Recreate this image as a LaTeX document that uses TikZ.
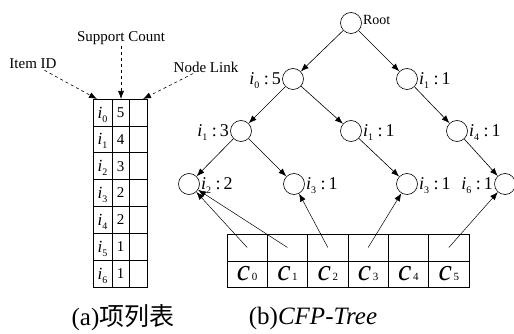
\documentclass[tikz,border=0pt]{standalone}
\usepackage{fontspec}
\setmainfont{Liberation Serif}
\newfontfamily\cjk{Noto Sans CJK SC}
\usetikzlibrary{arrows.meta,positioning}
\newcommand{\itm}[1]{\textit{i}\raisebox{-4pt}{\fontsize{10}{10}\selectfont #1}}
\newcommand{\lab}[2]{\itm{#1} :\,#2}
\newcommand{\cvar}[1]{{\fontsize{30}{30}\selectfont\textit{c}}\,{\fontsize{11}{11}\selectfont #1}}

\begin{document}
\begin{tikzpicture}[x=1pt, y=-1pt, line width=0.6pt,
    tnode/.style={circle, draw, minimum size=21pt, inner sep=0pt},
    tlab/.style={font=\fontsize{18}{18}\selectfont, inner sep=1pt, text depth=0pt},
    tarr/.style={-{Latex[length=8pt, width=6pt]}},
    note/.style={font=\fontsize{15}{15}\selectfont, inner sep=1pt}]
  \useasboundingbox (0,0) rectangle (514,334);

  % (a) item list
  \foreach \i/\n in {0/5,1/4,2/3,3/2,4/2,5/1,6/1} {
    \pgfmathsetmacro\ya{99+26.86*\i}
    \pgfmathsetmacro\yb{99+26.86*(\i+1)}
    \draw (93,\ya) rectangle (112,\yb) node (id\i) [pos=.5, font=\fontsize{17}{17}\selectfont, text depth=0pt] {\itm{\i}}
          (112,\ya) rectangle (129,\yb) node (sc\i) [pos=.5, font=\fontsize{15}{15}\selectfont] {\n}
          (129,\ya) rectangle (147,\yb) node (nl\i) [pos=.5] {};
  }
  \coordinate (idtop) at (97,99);
  \coordinate (sctop) at (121,99);
  \coordinate (nltop) at (143,99);
  \node[note] (itemid) at (33,64) {Item ID};
  \node[note] (supcnt) at (121,38) {Support Count};
  \node[note] (nodelink) at (206,67) {Node Link};
  \draw[dashed, tarr] (itemid) -- (idtop);
  \draw[dashed, tarr] (supcnt) -- (sctop);
  \draw[dashed, tarr] (nodelink) -- (nltop);

  % (b) tree
  \node[tnode] (root) at (351,23) {};
  \node[tnode] (n1) at (293,79) {};
  \node[tnode] (n2) at (407,79) {};
  \node[tnode] (n3) at (241,131) {};
  \node[tnode] (n4) at (351,131) {};
  \node[tnode] (n5) at (457,131) {};
  \node[tnode] (n6) at (189,184) {};
  \node[tnode] (n7) at (294,184) {};
  \node[tnode] (n8) at (407,184) {};
  \node[tnode] (n9) at (505,184) {};

  \node[font=\fontsize{14}{14}\selectfont, inner sep=1pt, right=0pt of root, yshift=3pt] (rootlab) {Root};
  \node[tlab, left=0pt of n1] (lab1) {\lab{0}{5}};
  \node[tlab, right=0pt of n2] (lab2) {\lab{1}{1}};
  \node[tlab, left=0pt of n3] (lab3) {\lab{1}{3}};
  \node[tlab, right=0pt of n4] (lab4) {\lab{1}{1}};
  \node[tlab, right=0pt of n5] (lab5) {\lab{4}{1}};
  \node[tlab, right=0pt of n6] (lab6) {\lab{2}{2}};
  \node[tlab, right=0pt of n7] (lab7) {\lab{3}{1}};
  \node[tlab, right=0pt of n8] (lab8) {\lab{3}{1}};
  \node[tlab, left=0pt of n9] (lab9) {\lab{6}{1}};

  \draw[tarr] (root) edge (n1) (root) edge (n2)
              (n1) edge (n3) (n1) edge (n4) (n2) edge (n5)
              (n3) edge (n6) (n3) edge (n7) (n4) edge (n8) (n5) edge (n9);

  % cell array
  \foreach \j in {0,...,5} {
    \pgfmathsetmacro\xa{227+40.33*\j}
    \pgfmathsetmacro\xb{227+40.33*(\j+1)}
    \draw (\xa,234) rectangle (\xb,261) node (cell\j) [pos=.5] {}
          (\xa,261) rectangle (\xb,287) node (cvar\j) [pos=.5] {\cvar{\j}};
  }
  \draw[tarr, line width=0.5pt] (cell0.center) -- (n6);
  \draw[tarr, line width=0.5pt] (cell1.center) -- (n6);
  \draw[tarr, line width=0.5pt] (cell2.center) -- (n7);
  \draw[tarr, line width=0.5pt] (cell3.center) -- (n8);
  \draw[tarr, line width=0.5pt] (cell5.center) -- (n9);

  % captions
  \node[font=\fontsize{25}{25}\selectfont] (capa) at (123,318) {(a){\cjk 项列表}};
  \node[font=\fontsize{25}{25}\selectfont] (capb) at (313,318) {(b)\textit{CFP-Tree}};
\end{tikzpicture}
\end{document}
